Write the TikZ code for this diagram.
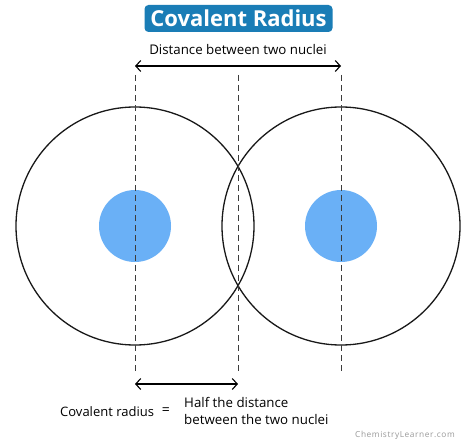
\documentclass[tikz,border=0pt]{standalone}
\usepackage{fontspec}
\setmainfont{Open Sans}
\usetikzlibrary{arrows.meta}
\definecolor{titleblue}{RGB}{26,125,182}
\definecolor{nucblue}{RGB}{106,176,246}
\definecolor{dashgray}{RGB}{60,60,60}
\tikzset{
  shell/.style={draw=black!90, line width=1.3pt},
  nucleus/.style={fill=nucblue, draw=none},
  guide/.style={draw=dashgray, line width=0.8pt, dash pattern=on 6pt off 4pt},
  dimarrow/.style={line width=1.1pt, {Straight Barb[length=5pt,width=11pt]}-{Straight Barb[length=5pt,width=11pt]}},
  lbl/.style={font=\fontsize{13}{15}\selectfont, inner sep=0pt}
}
\begin{document}
\begin{tikzpicture}[x=1pt,y=-1pt]
\useasboundingbox[fill=white] (0,0) rectangle (474,444);
% title
\node[fill=titleblue, rounded corners=4pt, text=white, font=\fontsize{22}{24}\bfseries\selectfont,
  minimum width=188pt, minimum height=27pt, inner sep=0pt] (title) at (238.5,18.5) {Covalent Radius};
% coordinates
\coordinate (L) at (135,226);
\coordinate (R) at (341,226);
\coordinate (Lt) at (135,75); \coordinate (Lb) at (135,374);
\coordinate (Mt) at (238,75); \coordinate (Mb) at (238,374);
\coordinate (Rt) at (341,75); \coordinate (Rb) at (341,374);
% shells
\draw[shell] (L) circle[radius=119];
\draw[shell] (R) circle[radius=119];
% nuclei
\fill[nucleus] (L) circle[radius=36];
\fill[nucleus] (R) circle[radius=36];
% guides
\draw[guide] (Lt) -- (Lb);
\draw[guide] (Mt) -- (Mb);
\draw[guide] (Rt) -- (Rb);
% top arrow
\coordinate (a1) at (135,66); \coordinate (a2) at (341,66);
\draw[dimarrow] (a1) -- (a2);
\node[lbl, font=\fontsize{13.3}{15}\selectfont] (dist) at (238,50) {Distance between two nuclei};
% bottom arrow
\coordinate (b1) at (135,384); \coordinate (b2) at (238,384);
\draw[dimarrow] (b1) -- (b2);
\node[lbl, anchor=west] (cr) at (60,412) {Covalent radius};
\node[lbl, font=\fontsize{14}{15}\selectfont] (eq) at (166,411.5) {=};
\node[lbl, anchor=north west, align=left, font=\fontsize{13.3}{17}\selectfont] (half) at (184,397) {Half the distance\\between the two nuclei};
% watermark
\node[font=\fontsize{8.3}{9}\selectfont, text=black!40, inner sep=0pt] (wm) at (405,435) {C\kern.6pt h\kern.6pt e\kern.6pt m\kern.6pt i\kern.6pt s\kern.6pt t\kern.6pt r\kern.6pt y\kern.6pt L\kern.6pt e\kern.6pt a\kern.6pt r\kern.6pt n\kern.6pt e\kern.6pt r\kern.6pt .\kern.6pt c\kern.6pt o\kern.6pt m};
\end{tikzpicture}
\end{document}
